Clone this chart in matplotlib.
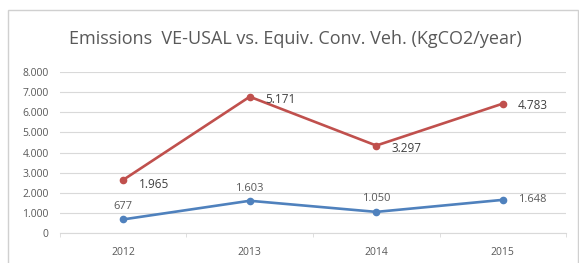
import matplotlib
matplotlib.use("Agg")
import matplotlib.pyplot as plt
from matplotlib.patches import Rectangle

plt.rcParams["font.family"] = ["Open Sans", "DejaVu Sans"]

# data (stacked line chart: red = blue + increment)
years = ["2012", "2013", "2014", "2015"]
ve_usal = [677, 1603, 1050, 1648]
conv_increment = [1965, 5171, 3297, 4783]
conv_total = [b + d for b, d in zip(ve_usal, conv_increment)]
y_ticks = [0, 1000, 2000, 3000, 4000, 5000, 6000, 7000, 8000]


def fmt(v):
    return f"{v:,}".replace(",", ".")


blue = "#4F81BD"
red = "#C0504D"
grid_c = "#D9D9D9"
text_c = "#595959"

fig = plt.figure(figsize=(5.79, 2.63), dpi=100)
fig.patches.append(Rectangle((0.013, -0.01), 0.985, 0.972, transform=fig.transFigure,
                             fill=False, edgecolor="#D0D0D0", linewidth=1))
ax = fig.add_axes([0.1036, 0.114, 0.874, 0.612])

x = list(range(len(years)))
ax.plot(x, ve_usal, color=blue, lw=1.9, marker="o", ms=4.5, zorder=3)
ax.plot(x, conv_total, color=red, lw=1.9, marker="o", ms=4.5, zorder=3)

# data labels
blue_off = [(0, 5), (0, 5), (0, 6), (11, 0)]
blue_ha = ["center", "center", "center", "left"]
for i, v in enumerate(ve_usal):
    ax.annotate(fmt(v), (x[i], v), xytext=blue_off[i], textcoords="offset points",
                ha=blue_ha[i], va="bottom" if blue_off[i][1] > 0 else "center",
                fontsize=8, color=text_c)
red_off = [(11, -3), (11, -2), (11, -2), (11, -1)]
for i, v in enumerate(conv_total):
    ax.annotate(fmt(conv_increment[i]), (x[i], v), xytext=red_off[i], textcoords="offset points",
                ha="left", va="center", fontsize=8.5, color="#404040")

ax.set_xlim(-0.5, 3.5)
ax.set_ylim(0, 8000)
ax.set_yticks(y_ticks)
ax.set_yticklabels([fmt(t) for t in y_ticks])
ax.set_xticks(x)
ax.set_xticklabels(years)
ax.set_xticks([-0.5, 0.5, 1.5, 2.5, 3.5], minor=True)
ax.tick_params(axis="x", which="major", length=0, labelsize=7.5, colors=text_c, pad=10)
ax.tick_params(axis="x", which="minor", length=3, color=grid_c)
ax.tick_params(axis="y", length=0, labelsize=7.5, colors=text_c, pad=8)
ax.grid(axis="y", color=grid_c, lw=0.8)
ax.set_axisbelow(True)
for s in ["top", "right", "left"]:
    ax.spines[s].set_visible(False)
ax.spines["bottom"].set_color(grid_c)

fig.text(0.51, 0.85, "Emissions  VE-USAL vs. Equiv. Conv. Veh. (KgCO2/year)",
         ha="center", va="center", fontsize=13, color=text_c)

fig.savefig("out.png", dpi=100)
